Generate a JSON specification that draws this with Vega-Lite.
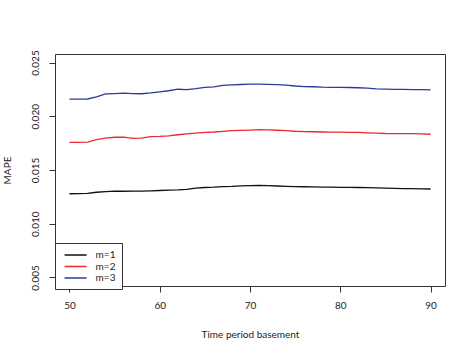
{
  "$schema": "https://vega.github.io/schema/vega-lite/v6.json",
  "autosize": {"type": "none"},
  "padding": {"left": 55, "top": 54, "right": 28, "bottom": 68},
  "width": 390,
  "height": 232,
  "background": "white",
  "config": {
    "font": "Lato",
    "view": {"stroke": "#333333", "strokeWidth": 1},
    "axis": {"grid": false, "domain": false, "tickColor": "#333333", "tickSize": 6, "labelColor": "#222222", "titleColor": "#222222", "labelFontSize": 10, "titleFontSize": 10, "titleFontWeight": "normal", "labelFont": "Lato", "titleFont": "Lato"}
  },
  "data": {
    "values": [
      {"t": 50, "m": "m=1", "v": 0.01279}, {"t": 51, "m": "m=1", "v": 0.01280}, {"t": 52, "m": "m=1", "v": 0.01282}, {"t": 53, "m": "m=1", "v": 0.01293}, {"t": 54, "m": "m=1", "v": 0.01298}, {"t": 55, "m": "m=1", "v": 0.01303}, {"t": 56, "m": "m=1", "v": 0.01302}, {"t": 57, "m": "m=1", "v": 0.01303}, {"t": 58, "m": "m=1", "v": 0.01304}, {"t": 59, "m": "m=1", "v": 0.01306}, {"t": 60, "m": "m=1", "v": 0.01309}, {"t": 61, "m": "m=1", "v": 0.01312}, {"t": 62, "m": "m=1", "v": 0.01315}, {"t": 63, "m": "m=1", "v": 0.01320}, {"t": 64, "m": "m=1", "v": 0.01332}, {"t": 65, "m": "m=1", "v": 0.01337}, {"t": 66, "m": "m=1", "v": 0.01340}, {"t": 67, "m": "m=1", "v": 0.01346}, {"t": 68, "m": "m=1", "v": 0.01348}, {"t": 69, "m": "m=1", "v": 0.01352}, {"t": 70, "m": "m=1", "v": 0.01355}, {"t": 71, "m": "m=1", "v": 0.01357}, {"t": 72, "m": "m=1", "v": 0.01354}, {"t": 73, "m": "m=1", "v": 0.01351}, {"t": 74, "m": "m=1", "v": 0.01348}, {"t": 75, "m": "m=1", "v": 0.01345}, {"t": 76, "m": "m=1", "v": 0.01344}, {"t": 77, "m": "m=1", "v": 0.01343}, {"t": 78, "m": "m=1", "v": 0.01341}, {"t": 79, "m": "m=1", "v": 0.01340}, {"t": 80, "m": "m=1", "v": 0.01339}, {"t": 81, "m": "m=1", "v": 0.01338}, {"t": 82, "m": "m=1", "v": 0.01337}, {"t": 83, "m": "m=1", "v": 0.01335}, {"t": 84, "m": "m=1", "v": 0.01333}, {"t": 85, "m": "m=1", "v": 0.01332}, {"t": 86, "m": "m=1", "v": 0.01329}, {"t": 87, "m": "m=1", "v": 0.01327}, {"t": 88, "m": "m=1", "v": 0.01326}, {"t": 89, "m": "m=1", "v": 0.01325}, {"t": 90, "m": "m=1", "v": 0.01323},
      {"t": 50, "m": "m=2", "v": 0.01758}, {"t": 51, "m": "m=2", "v": 0.01758}, {"t": 52, "m": "m=2", "v": 0.01760}, {"t": 53, "m": "m=2", "v": 0.01783}, {"t": 54, "m": "m=2", "v": 0.01796}, {"t": 55, "m": "m=2", "v": 0.01805}, {"t": 56, "m": "m=2", "v": 0.01806}, {"t": 57, "m": "m=2", "v": 0.01795}, {"t": 58, "m": "m=2", "v": 0.01797}, {"t": 59, "m": "m=2", "v": 0.01810}, {"t": 60, "m": "m=2", "v": 0.01813}, {"t": 61, "m": "m=2", "v": 0.01818}, {"t": 62, "m": "m=2", "v": 0.01828}, {"t": 63, "m": "m=2", "v": 0.01836}, {"t": 64, "m": "m=2", "v": 0.01844}, {"t": 65, "m": "m=2", "v": 0.01850}, {"t": 66, "m": "m=2", "v": 0.01854}, {"t": 67, "m": "m=2", "v": 0.01860}, {"t": 68, "m": "m=2", "v": 0.01866}, {"t": 69, "m": "m=2", "v": 0.01869}, {"t": 70, "m": "m=2", "v": 0.01872}, {"t": 71, "m": "m=2", "v": 0.01875}, {"t": 72, "m": "m=2", "v": 0.01873}, {"t": 73, "m": "m=2", "v": 0.01870}, {"t": 74, "m": "m=2", "v": 0.01866}, {"t": 75, "m": "m=2", "v": 0.01861}, {"t": 76, "m": "m=2", "v": 0.01858}, {"t": 77, "m": "m=2", "v": 0.01856}, {"t": 78, "m": "m=2", "v": 0.01854}, {"t": 79, "m": "m=2", "v": 0.01853}, {"t": 80, "m": "m=2", "v": 0.01852}, {"t": 81, "m": "m=2", "v": 0.01851}, {"t": 82, "m": "m=2", "v": 0.01850}, {"t": 83, "m": "m=2", "v": 0.01846}, {"t": 84, "m": "m=2", "v": 0.01843}, {"t": 85, "m": "m=2", "v": 0.01840}, {"t": 86, "m": "m=2", "v": 0.01839}, {"t": 87, "m": "m=2", "v": 0.01838}, {"t": 88, "m": "m=2", "v": 0.01839}, {"t": 89, "m": "m=2", "v": 0.01837}, {"t": 90, "m": "m=2", "v": 0.01833},
      {"t": 50, "m": "m=3", "v": 0.02159}, {"t": 51, "m": "m=3", "v": 0.02160}, {"t": 52, "m": "m=3", "v": 0.02161}, {"t": 53, "m": "m=3", "v": 0.02180}, {"t": 54, "m": "m=3", "v": 0.02208}, {"t": 55, "m": "m=3", "v": 0.02212}, {"t": 56, "m": "m=3", "v": 0.02215}, {"t": 57, "m": "m=3", "v": 0.02212}, {"t": 58, "m": "m=3", "v": 0.02210}, {"t": 59, "m": "m=3", "v": 0.02218}, {"t": 60, "m": "m=3", "v": 0.02228}, {"t": 61, "m": "m=3", "v": 0.02238}, {"t": 62, "m": "m=3", "v": 0.02252}, {"t": 63, "m": "m=3", "v": 0.02248}, {"t": 64, "m": "m=3", "v": 0.02258}, {"t": 65, "m": "m=3", "v": 0.02270}, {"t": 66, "m": "m=3", "v": 0.02274}, {"t": 67, "m": "m=3", "v": 0.02288}, {"t": 68, "m": "m=3", "v": 0.02293}, {"t": 69, "m": "m=3", "v": 0.02296}, {"t": 70, "m": "m=3", "v": 0.02299}, {"t": 71, "m": "m=3", "v": 0.02300}, {"t": 72, "m": "m=3", "v": 0.02298}, {"t": 73, "m": "m=3", "v": 0.02294}, {"t": 74, "m": "m=3", "v": 0.02290}, {"t": 75, "m": "m=3", "v": 0.02282}, {"t": 76, "m": "m=3", "v": 0.02277}, {"t": 77, "m": "m=3", "v": 0.02275}, {"t": 78, "m": "m=3", "v": 0.02271}, {"t": 79, "m": "m=3", "v": 0.02270}, {"t": 80, "m": "m=3", "v": 0.02269}, {"t": 81, "m": "m=3", "v": 0.02268}, {"t": 82, "m": "m=3", "v": 0.02266}, {"t": 83, "m": "m=3", "v": 0.02262}, {"t": 84, "m": "m=3", "v": 0.02256}, {"t": 85, "m": "m=3", "v": 0.02253}, {"t": 86, "m": "m=3", "v": 0.02251}, {"t": 87, "m": "m=3", "v": 0.02250}, {"t": 88, "m": "m=3", "v": 0.02249}, {"t": 89, "m": "m=3", "v": 0.02248}, {"t": 90, "m": "m=3", "v": 0.02246}
    ]
  },
  "mark": {"type": "line", "strokeWidth": 1.3},
  "encoding": {
    "x": {
      "field": "t", "type": "quantitative",
      "scale": {"domain": [48.4, 91.6], "nice": false, "zero": false},
      "axis": {"values": [50, 60, 70, 80, 90], "title": "Time period basement", "labelPadding": 8, "titlePadding": 19}
    },
    "y": {
      "field": "v", "type": "quantitative",
      "scale": {"domain": [0.0042, 0.0258], "nice": false, "zero": false},
      "axis": {"values": [0.005, 0.01, 0.015, 0.02, 0.025], "format": ".3f", "title": "MAPE", "labelAngle": -90, "labelAlign": "center", "labelBaseline": "bottom", "labelPadding": 9, "titlePadding": 18}
    },
    "color": {
      "field": "m", "type": "nominal",
      "scale": {"domain": ["m=1", "m=2", "m=3"], "range": ["#111111", "#ec2a30", "#2e3a97"]},
      "legend": {
        "title": null, "orient": "none", "legendX": 0, "legendY": 189,
        "strokeColor": "#333333", "padding": 6, "fillColor": "white",
        "symbolType": "M-2.2,0H2.2", "symbolSize": 100, "symbolStrokeWidth": 1.5,
        "labelFontSize": 10, "labelOffset": 14, "rowPadding": 0.5, "symbolOffset": 8.6, "labelFont": "Lato", "labelColor": "#222222"
      }
    }
  }
}
